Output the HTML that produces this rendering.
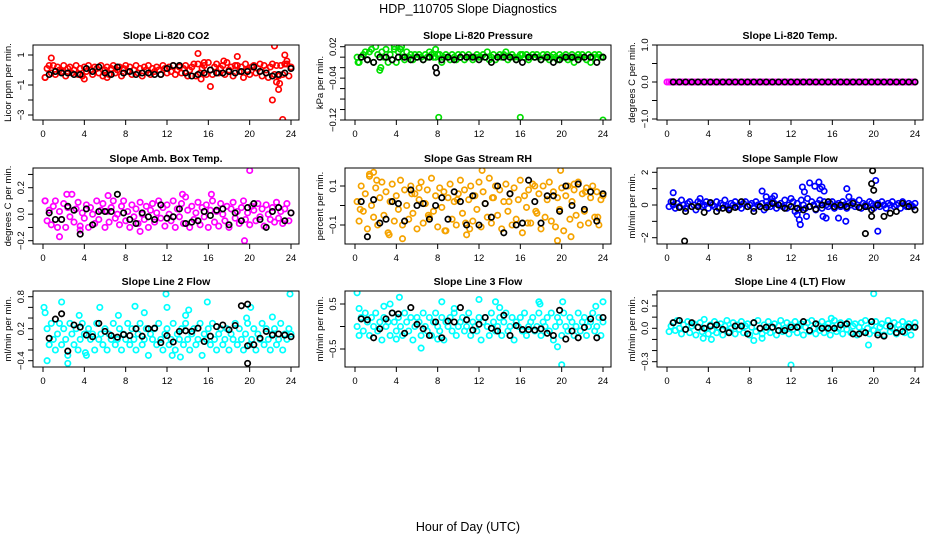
<!DOCTYPE html>
<html><head><meta charset="utf-8">
<style>
html,body{margin:0;padding:0;background:#fff;}
svg{display:block;font-family:"Liberation Sans",sans-serif;}
</style></head>
<body>
<svg id="chart" width="936" height="540" viewBox="0 0 936 540" xmlns="http://www.w3.org/2000/svg">
<rect x="0" y="0" width="936" height="540" fill="#fff"/>
<text x="468" y="13" text-anchor="middle" font-size="12.5">HDP_110705  Slope Diagnostics</text>
<text x="468" y="531" text-anchor="middle" font-size="12.5">Hour of Day (UTC)</text>
</svg>
<script>
const T=[0.2,0.4,0.6,0.8,1,1.2,1.4,1.6,1.8,2,2.2,2.4,2.6,2.8,3,3.2,3.4,3.6,3.8,4,4.2,4.4,4.6,4.8,5,5.2,5.4,5.6,5.8,6,6.2,6.4,6.6,6.8,7,7.2,7.4,7.6,7.8,8,8.2,8.4,8.6,8.8,9,9.2,9.4,9.6,9.8,10,10.2,10.4,10.6,10.8,11,11.2,11.4,11.6,11.8,12,12.2,12.4,12.6,12.8,13,13.2,13.4,13.6,13.8,14,14.2,14.4,14.6,14.8,15,15.2,15.4,15.6,15.8,16,16.2,16.4,16.6,16.8,17,17.2,17.4,17.6,17.8,18,18.2,18.4,18.6,18.8,19,19.2,19.4,19.6,19.8,20,20.2,20.4,20.6,20.8,21,21.2,21.4,21.6,21.8,22,22.2,22.4,22.6,22.8,23,23.2,23.4,23.6,23.8,24];
const TB=[0.6,1.2,1.8,2.4,3,3.6,4.2,4.8,5.4,6,6.6,7.2,7.8,8.4,9,9.6,10.2,10.8,11.4,12,12.6,13.2,13.8,14.4,15,15.6,16.2,16.8,17.4,18,18.6,19.2,19.8,20.4,21,21.6,22.2,22.8,23.4,24];
const xTicks=[0,4,8,12,16,20,24];

// CO2
const co2Y=[-0.5,0.1,0.3,-0.2,0.3,-0.3,0.2,0,-0.1,0.3,-0.4,0.1,0.2,-0.2,0,0.3,-0.3,0.1,-0.4,0.2,-0.1,0.3,0,-0.3,0.2,0.1,-0.2,0.3,-0.4,0,0.2,-0.3,0.1,0.3,-0.2,0,0.2,-0.4,0.1,0.3,-0.1,0.2,-0.3,0,0.3,-0.2,0.1,-0.4,0.2,0,0.3,-0.3,0.1,-0.1,0.2,0,-0.3,0.3,0.1,-0.2,0.2,-0.1,0.3,-0.3,0,0.2,-0.2,0.1,0.3,-0.4,0,0.2,0.4,-0.4,0.4,-0.2,0.1,0.3,-0.3,0.5,0,-0.3,0.2,0.4,-0.2,0.1,0.3,-0.3,0.5,0,0.2,-0.4,0.3,0.3,-0.1,0.2,-0.5,0.4,0,-0.3,0.2,0.3,-0.2,0.1,0.4,-0.4,0.3,0,-0.5,0.2,0.4,-0.3,0.3,-0.4,0.3,-0.3,0.4,0.4,-0.4,0.2];
const co2OutX=[0.8,4,6.2,15,16.2,18.8,22.2,22.4,22.8,22.9,23.2,23.4,15.3,15.6,23.6,17.5,22.6,0.2];
const co2OutY=[0.8,-0.6,-0.5,1.1,-1.1,0.9,-2,1.6,-1.3,-0.9,-3.3,1.0,-0.6,0.5,0.6,0.6,-0.8,-0.5];
const co2BlackY=[-0.3,-0.1,-0.2,-0.2,-0.3,-0.3,0.1,-0.1,0.2,-0.2,-0.3,0.2,-0.2,-0.1,-0.3,-0.2,-0.2,-0.3,-0.3,0.1,0.3,0.3,-0.2,-0.4,-0.3,-0.2,0,-0.2,-0.2,-0.1,-0.2,-0.1,-0.1,0.2,-0.1,-0.2,-0.4,-0.3,-0.2,0.1];
const co2BlackOutX=[]; const co2BlackOutY=[];

// Pressure
const presY=[0,-0.01,0,0.005,0.01,-0.005,0.01,0.015,-0.01,0.02,0.005,-0.025,0.01,0,0.015,-0.01,0.005,-0.005,0.02,-0.01,0.01,0.015,0,-0.005,0.01,0,0.005,-0.005,0.005,0,0.005,0,-0.005,0.005,0,0.01,0.005,0,0,0.005,0.005,-0.01,0,0.005,0,-0.005,0.005,0,-0.005,0.005,0,0.005,-0.005,0,0.005,0,-0.005,0,0.005,0,0,0.005,0,0.01,-0.005,0,0.005,-0.005,0,0.005,0,0.005,0.01,-0.005,0,0.005,0,-0.005,0,0.005,0.005,0,0.005,-0.005,0,0.005,0,0.005,0,-0.005,0.005,0,0.005,-0.005,0,0.005,0,-0.005,0.005,0,0,0.005,-0.005,0,0.005,-0.01,0,0.005,0,0.005,0,-0.005,0.005,-0.01,0,0.005,0,0.005,0,0];
const presOutX=[8.1,16,24,0.3,2.5,4.5,7.8,3.8];
const presOutY=[-0.115,-0.115,-0.12,-0.01,-0.02,0.02,0.015,0.015];
const presBlackY=[0,-0.005,-0.01,0,0,-0.005,0,0,-0.005,0,-0.005,0,-0.02,-0.005,0,-0.005,0,0,0,-0.005,0,-0.01,0,0,0,-0.005,-0.01,0,0,-0.005,0,-0.01,-0.005,0,0,-0.005,0,0,-0.01,0];
const presBlackOutX=[7.9]; const presBlackOutY=[-0.03];

// Li-820 Temp
const tempY=[0,0,0,0,0,0,0,0,0,0,0,0,0,0,0,0,0,0,0,0,0,0,0,0,0,0,0,0,0,0,0,0,0,0,0,0,0,0,0,0,0,0,0,0,0,0,0,0,0,0,0,0,0,0,0,0,0,0,0,0,0,0,0,0,0,0,0,0,0,0,0,0,0,0,0,0,0,0,0,0,0,0,0,0,0,0,0,0,0,0,0,0,0,0,0,0,0,0,0,0,0,0,0,0,0,0,0,0,0,0,0,0,0,0,0,0,0,0,0,0];
const tempOutX=[0]; const tempOutY=[0];
const tempBlackY=[0,0,0,0,0,0,0,0,0,0,0,0,0,0,0,0,0,0,0,0,0,0,0,0,0,0,0,0,0,0,0,0,0,0,0,0,0,0,0,0];
const tempBlackOutX=[]; const tempBlackOutY=[];

// Amb box temp
const ambY=[0.1,-0.05,0.03,-0.08,0.06,0.1,-0.1,0.02,-0.04,0.08,-0.1,0.05,-0.02,0.15,-0.06,0.04,0.09,-0.09,0.01,-0.03,0.07,-0.1,0.05,0,-0.07,0.1,-0.04,0.03,0.08,-0.1,0.02,-0.06,0.05,0.1,-0.03,0,-0.08,0.06,0.1,-0.05,0.02,-0.1,0.07,-0.02,0.04,-0.07,0.09,0,-0.04,0.06,-0.1,0.03,0.08,-0.06,0.01,0.1,-0.03,0.05,-0.09,0.07,0,-0.05,0.1,-0.1,0.04,-0.02,0.08,-0.07,0.13,0.03,-0.1,0.06,-0.04,0.01,0.09,-0.08,0.05,-0.02,0.07,-0.1,0.03,0.1,-0.06,0.02,-0.09,0.08,0,-0.05,0.06,-0.1,0.04,0.09,-0.03,0.02,-0.07,0.05,0.1,-0.04,0.01,-0.08,0.06,0.03,-0.05,0.08,-0.02,0.04,-0.09,0.07,0,-0.04,0.05,-0.06,0.09,-0.03,0.02,-0.07,0.04,0.08,-0.05,0.01];
const ambOutX=[1.6,19.5,20,13.5,9.4,3.6,2.3,16.3,6.3,0.2];
const ambOutY=[-0.17,-0.2,0.33,0.15,-0.13,-0.12,0.15,0.15,0.14,0.1];
const ambBlackY=[0.01,-0.04,-0.04,0.06,0.03,-0.15,0.04,-0.08,0.02,0.02,0.02,0.15,0.01,-0.04,-0.07,0.01,-0.02,-0.04,0.07,-0.03,-0.02,0.04,-0.07,-0.06,-0.05,0.02,-0.01,0.03,0.04,-0.08,0.01,-0.05,0.05,0.08,-0.04,-0.1,0.02,0.05,-0.05,0.01];
const ambBlackOutX=[]; const ambBlackOutY=[];

// Gas stream RH
const rhY=[0.02,-0.08,0.1,-0.03,0.06,-0.12,0.15,0,-0.06,0.09,-0.1,0.04,0.12,-0.05,0.07,-0.14,0.02,0.11,-0.08,0.05,-0.02,0.13,-0.1,0.08,0,-0.07,0.1,-0.04,0.06,-0.12,0.03,0.12,-0.09,0.01,0.08,-0.06,0.14,-0.03,0.05,-0.11,0.09,-0.01,0.07,-0.13,0.04,0.11,-0.07,0.02,-0.1,0.06,0.13,-0.04,0.08,-0.15,0.03,0.1,-0.08,0.05,-0.02,0.12,-0.11,0.07,0.01,-0.06,0.14,-0.09,0.04,0.1,-0.05,0.08,-0.12,0.02,0.11,-0.03,0.06,-0.1,0.09,-0.07,0.03,0.13,-0.14,0.05,-0.01,0.08,-0.09,0.11,0.1,-0.04,0.06,-0.12,0.1,-0.06,0.03,0.12,-0.08,0.07,-0.11,0.04,-0.02,0.09,-0.13,0.05,0.1,-0.07,0.02,0.08,-0.05,0.12,-0.1,0.06,-0.03,0.09,-0.09,0.04,0.1,-0.06,0.07,-0.1,0.03,0.05];
const rhOutX=[1.8,1.4,4.6,8.7,12.3,3.3,19.9,19.6,20.9,2.1,0.5,5.5,7.1,9.9,10.7,14.9,17.5,22.3,23.5,6.2,11.1,13.3,16.7,21.2];
const rhOutY=[0.17,0.16,-0.17,-0.13,0.18,-0.15,0.18,-0.18,-0.16,0.13,-0.02,0.06,-0.05,0.03,-0.09,0.02,-0.03,0.07,-0.06,0.09,-0.12,0.04,-0.09,0.11];
const rhBlackY=[0.02,-0.16,0.03,-0.09,-0.07,0.02,0.01,-0.08,0.08,0,0.01,-0.07,0,0.04,-0.07,0.07,0.02,-0.1,0.05,-0.1,0.01,-0.06,0.1,-0.14,0.06,-0.1,-0.09,0.13,0.02,-0.09,0.05,0.05,-0.03,0.1,0,0.11,-0.02,0.07,-0.08,0.06];
const rhBlackOutX=[]; const rhBlackOutY=[];

// Sample flow
const flowY=[-0.1,0.2,0,-0.2,0.1,-0.1,0.3,0,-0.2,0.1,0.2,-0.1,0,-0.3,0.2,0.1,-0.1,0,0.2,-0.2,0.1,0,-0.1,0.2,-0.2,0.1,0,0.3,-0.1,-0.2,0.1,0,0.2,-0.1,0,-0.2,0.1,0.2,-0.1,0,0.1,-0.2,0.2,0,-0.1,0.1,-0.3,0.2,0,-0.1,0.2,0.1,-0.2,0,0.1,-0.1,0.3,-0.2,0,0.4,0.2,-0.4,0.1,-0.3,0.3,0,-0.2,0.4,-0.1,0.2,0,-0.3,0.1,0.3,-0.2,0.2,0,-0.1,0.1,0.2,-0.2,0,0.1,-0.1,0.2,0,-0.2,0.1,0,0.2,-0.1,0,0.3,-0.2,0.1,0,-0.1,0.2,0.1,-0.2,0,0.1,-0.1,0.2,0,-0.2,0.1,0,0.2,-0.1,0,0.1,-0.2,0.2,0,-0.1,0.1,0,-0.1,0.1];
const flowOutX=[0.6,3.2,9.2,9.6,10.4,12.8,13.1,13.3,13.8,14.3,14.7,14.8,15,15.2,15.4,16.6,17.4,17.6,20.2,20.4,12.6,12.9,15.1,17.3,13.5,10.2];
const flowOutY=[0.75,0.4,0.85,0.5,0.55,-0.9,1.1,0.8,1.35,1.15,1.4,1.0,1.1,0.85,-0.8,-0.8,1.0,0.5,1.5,-1.6,-0.6,-1.2,-0.7,-1.0,-0.7,0.4];
const flowBlackY=[0.2,-0.15,-0.4,-0.1,-0.1,-0.45,0.15,-0.4,-0.2,-0.3,-0.15,0.2,-0.1,-0.4,-0.1,-0.15,0.1,0,-0.2,-0.1,-0.2,-0.3,-0.1,-0.25,0,0.2,-0.1,0,-0.1,0.1,-0.15,-0.1,-0.3,0,-0.7,-0.5,-0.4,0.1,-0.1,-0.3];
const flowBlackOutX=[1.7,19.2,19.8,19.9,20,19.8]; const flowBlackOutY=[-2.2,-1.75,1.3,2.1,0.9,-0.7];

// Line 2 flow
const l2Y=[0.5,0.2,-0.1,0.3,0,-0.2,0.1,0.3,-0.1,0.2,0,-0.3,0.3,0.1,-0.1,0.2,-0.2,0,0.3,0.1,-0.3,0.2,0,0.1,-0.2,0.3,0,0.1,-0.1,0.2,-0.2,0.1,0,0.3,-0.1,0,0.2,-0.2,0.1,0,0.3,-0.1,0.2,0,-0.2,0.1,0.3,-0.1,0,0.2,-0.3,0.1,0,0.2,-0.1,0.3,0,-0.2,0.1,0.2,-0.1,0,0.3,-0.2,0.1,0,0.2,-0.1,0.3,0,-0.2,0.1,0.2,-0.1,0,0.3,-0.3,0.1,0,0.2,-0.1,0.3,0,-0.2,0.1,0.2,-0.1,0,0.2,-0.2,0.1,0,0.3,-0.1,0.2,0,-0.2,0.1,0.3,-0.1,0,0.2,-0.2,0.1,0,0.3,-0.1,0.2,0,-0.2,0.1,0.2,-0.1,0,0.3,-0.2,0.1,0,0.2,0.1];
const l2OutX=[0.1,1.8,5.5,8.9,11.9,12,15.9,23.9,0.4,2.4,3.5,7.3,4.1,12.5,13.3,19.7,20.1,13.8,14.1,9.8,22.2];
const l2OutY=[0.6,0.7,0.6,0.62,0.85,0.6,0.7,0.85,-0.4,-0.45,0.45,0.45,-0.25,-0.3,-0.33,0.4,0.6,0.45,0.55,0.5,0.42];
const l2BlackY=[0.02,0.38,0.48,-0.22,0.27,0.23,0.08,0.05,0.3,0.15,0.07,0.04,0.09,0.07,0.2,0.06,0.2,0.21,-0.06,0.07,-0.05,0.15,0.16,0.15,0.21,-0.04,0.06,0.24,0.27,0.18,0.26,0.63,-0.12,-0.1,0.02,0.15,0.08,0.1,0.08,0.05];
const l2BlackOutX=[19.8,19.8]; const l2BlackOutY=[-0.45,0.66];

// Line 3 flow
const l3Y=[0,-0.2,0.2,-0.1,0.3,0.1,-0.2,0.2,0,0.3,-0.1,0.1,-0.3,0.2,0,0.1,-0.2,0.3,0.1,-0.1,0.2,0,-0.2,0.3,0.1,-0.1,0.2,-0.3,0,0.2,0.1,-0.2,0.3,0,-0.1,0.2,-0.2,0.1,0.3,0,-0.1,0.2,-0.3,0.1,0,0.2,-0.1,0.3,-0.2,0,0.1,0.2,-0.1,0,0.3,-0.2,0.1,0,-0.1,0.2,-0.3,0.1,0.2,0,-0.2,0.3,0.1,-0.1,0,0.2,-0.2,0.1,0.3,-0.1,0,0.2,-0.3,0.1,0,0.2,-0.1,0.3,-0.2,0,0.1,0.2,-0.1,0,0.3,-0.2,0.1,0,0.2,-0.1,0.3,-0.3,0,0.2,0.1,-0.2,0.3,0,-0.1,0.2,0.1,-0.2,0,0.3,-0.1,0.1,0.2,-0.2,0,0.1,0.3,-0.1,0,0.2,-0.2,0.1];
const l3OutX=[0.2,0.4,3.4,4.3,6.4,8.4,9.6,12,13.6,14,17.8,17.9,20.1,19.6,20,23.3,24,4,8,2.8];
const l3OutY=[0.75,0.4,0.5,0.65,-0.48,0.55,0.4,0.6,0.55,0.42,0.55,0.5,0.55,-0.45,-0.85,0.45,0.55,-0.28,-0.28,0.45];
const l3BlackY=[0.17,0.15,-0.25,-0.05,0.17,0.3,0.28,-0.15,0.42,0.05,-0.05,-0.2,0.1,-0.25,0.12,0.1,0.42,0.15,-0.08,0.05,0.2,-0.04,-0.1,0.25,-0.2,0.02,-0.07,-0.07,-0.08,-0.05,-0.15,-0.2,0.36,-0.28,-0.1,-0.25,-0.02,0.17,-0.25,0.2];
const l3BlackOutX=[]; const l3BlackOutY=[];

// Line 4 flow
const l4Y=[-0.03,0.02,0.05,-0.02,0.07,0,-0.05,0.03,-0.01,0.06,-0.04,0.02,0.04,-0.06,0.01,0.05,-0.03,0.08,0,-0.05,0.03,-0.02,0.06,-0.04,0.01,0.04,-0.06,0.02,0.07,-0.03,0,0.05,-0.05,0.03,-0.01,0.06,-0.04,0.02,0.04,-0.06,0.01,0.05,-0.03,0.07,0,-0.05,0.03,-0.02,0.06,-0.04,0.01,0.04,-0.06,0.02,0.07,-0.03,0,0.05,-0.05,0.03,-0.01,0.06,-0.04,0.02,0.04,-0.06,0.01,0.05,-0.03,0.07,0,-0.05,0.03,-0.02,0.06,-0.04,0.01,0.04,-0.06,0.02,0.07,-0.03,0,0.05,-0.05,0.03,-0.01,0.06,-0.04,0.02,0.04,-0.06,0.01,0.05,-0.03,0.07,0,-0.05,0.03,-0.02,0.06,-0.04,0.01,0.04,-0.06,0.02,0.07,-0.03,0,0.05,-0.05,0.03,-0.01,0.06,-0.04,0.02,0.04,-0.06,0.01,0.05];
const l4OutX=[20,12,19.5,4.3,3.5,8.4,9.2,15.9];
const l4OutY=[0.31,-0.33,-0.15,-0.1,-0.09,-0.11,-0.09,0.09];
const l4BlackY=[0.05,0.07,-0.01,0.05,0.01,0,0.02,0.03,-0.01,-0.04,0.02,0.02,-0.05,0.05,0,0.01,0.01,-0.02,-0.02,0.01,0.01,0.06,-0.02,0.04,0,0,0,0.03,0.04,-0.05,-0.05,-0.04,0.06,-0.06,-0.07,0.02,-0.04,-0.03,0.01,0.01];
const l4BlackOutX=[]; const l4BlackOutY=[];

const NS='http://www.w3.org/2000/svg';
const svg=document.getElementById('chart');
function mk(tag,attrs,parent){const e=document.createElementNS(NS,tag);for(const k in attrs)e.setAttribute(k,attrs[k]);(parent||svg).appendChild(e);return e;}

const colX=[43,355,667];
const rowBox=[[45,120],[168,244],[291,367]];
const panels=[
 {key:'co2',title:'Slope Li-820 CO2',yl:'Licor ppm per min.',col:0,row:0,color:'#ff0000',anc:[1,55,-3,115],ticks:[1,0,-1,-2,-3],labels:[1,-1,-3],fmt:v=>String(v),main:co2Y,ox:co2OutX,oy:co2OutY,by:co2BlackY,bx2:co2BlackOutX,by2:co2BlackOutY},
 {key:'pressure',title:'Slope Li-820 Pressure',yl:'kPa per min.',col:1,row:0,color:'#00e000',anc:[0.02,46.7,-0.12,120],ticks:[0.02,0,-0.02,-0.04,-0.06,-0.08,-0.1,-0.12],labels:[0.02,-0.04,-0.12],fmt:v=>v.toFixed(2),main:presY,ox:presOutX,oy:presOutY,by:presBlackY,bx2:presBlackOutX,by2:presBlackOutY},
 {key:'temp',title:'Slope Li-820 Temp.',yl:'degrees C per min.',col:2,row:0,color:'#ff00ff',anc:[1,45,-1,119],ticks:[1,0.5,0,-0.5,-1],labels:[1,0,-1],fmt:v=>v.toFixed(1),main:tempY,ox:tempOutX,oy:tempOutY,by:tempBlackY,bx2:tempBlackOutX,by2:tempBlackOutY},
 {key:'amb',title:'Slope Amb. Box Temp.',yl:'degrees C per min.',col:0,row:1,color:'#ff00ff',anc:[0.2,187.7,-0.2,240.7],ticks:[0.3,0.2,0.1,0,-0.1,-0.2],labels:[0.2,0,-0.2],fmt:v=>v.toFixed(1),main:ambY,ox:ambOutX,oy:ambOutY,by:ambBlackY,bx2:ambBlackOutX,by2:ambBlackOutY},
 {key:'rh',title:'Slope Gas Stream RH',yl:'percent per min.',col:1,row:1,color:'#f5a300',anc:[0.1,186,-0.1,225],ticks:[0.1,0,-0.1],labels:[0.1,-0.1],fmt:v=>v.toFixed(1),main:rhY,ox:rhOutX,oy:rhOutY,by:rhBlackY,bx2:rhBlackOutX,by2:rhBlackOutY},
 {key:'sample-flow',title:'Slope Sample Flow',yl:'ml/min per min.',col:2,row:1,color:'#0000ff',anc:[2,172.3,-2,237.7],ticks:[2,1,0,-1,-2],labels:[2,0,-2],fmt:v=>String(v),main:flowY,ox:flowOutX,oy:flowOutY,by:flowBlackY,bx2:flowBlackOutX,by2:flowBlackOutY},
 {key:'line2',title:'Slope Line 2 Flow',yl:'ml/min per min.',col:0,row:2,color:'#00ffff',anc:[0.8,296.7,-0.4,360.7],ticks:[0.8,0.6,0.4,0.2,0,-0.2,-0.4],labels:[0.8,0.2,-0.4],fmt:v=>v.toFixed(1),main:l2Y,ox:l2OutX,oy:l2OutY,by:l2BlackY,bx2:l2BlackOutX,by2:l2BlackOutY},
 {key:'line3',title:'Slope Line 3 Flow',yl:'ml/min per min.',col:1,row:2,color:'#00ffff',anc:[0.5,304,-0.5,349],ticks:[0.5,0,-0.5],labels:[0.5,-0.5],fmt:v=>v.toFixed(1),main:l3Y,ox:l3OutX,oy:l3OutY,by:l3BlackY,bx2:l3BlackOutX,by2:l3BlackOutY},
 {key:'line4',title:'Slope Line 4 (LT) Flow',yl:'ml/min per min.',col:2,row:2,color:'#00ffff',anc:[0.2,306,-0.3,361.7],ticks:[0.3,0.2,0.1,0,-0.1,-0.2,-0.3],labels:[0.2,0,-0.3],fmt:v=>v.toFixed(1),main:l4Y,ox:l4OutX,oy:l4OutY,by:l4BlackY,bx2:l4BlackOutX,by2:l4BlackOutY}
];

panels.forEach(p=>{
  const x0=colX[p.col];
  const [top,bot]=rowBox[p.row];
  const L=x0-10,R=x0+256;
  const xs=h=>x0+h*248/24;
  const k=(p.anc[3]-p.anc[1])/(p.anc[2]-p.anc[0]);
  const ys=v=>p.anc[1]+(v-p.anc[0])*k;
  const g=mk('g',{});
  
  
  const cp=mk('clipPath',{id:'clip-'+p.key},g);
  mk('rect',{x:L,y:top,width:R-L,height:bot-top},cp);
  const t=mk('text',{x:(L+R)/2,y:top-6,'text-anchor':'middle','font-size':'10.5','font-weight':'bold'},g);
  t.textContent=p.title;
  
  
  const pts=mk('g',{'clip-path':'url(#clip-'+p.key+')',fill:'none','stroke-width':'1.7'},g);
  
  
  function dot(x,y,c){const e=mk('circle',{cx:xs(x).toFixed(1),cy:ys(y).toFixed(1),r:'2.7',stroke:c},pts);
    
    }
  for(let i=0;i<Math.min(T.length,p.main.length);i++) dot(T[i],p.main[i],p.color);
  for(let i=0;i<p.ox.length;i++) dot(p.ox[i],p.oy[i],p.color);
  for(let i=0;i<Math.min(TB.length,p.by.length);i++) dot(TB[i],p.by[i],'#000');
  for(let i=0;i<p.bx2.length;i++) dot(p.bx2[i],p.by2[i],'#000');
  const box=mk('rect',{x:L,y:top,width:R-L,height:bot-top,fill:'none',stroke:'#000','stroke-width':'1'},g);
  
  
  xTicks.forEach(v=>{
    const X=xs(v);
    mk('line',{x1:X,y1:bot,x2:X,y2:bot+5,stroke:'#000'},g);
    const tl=mk('text',{x:X,y:bot+17,'text-anchor':'middle','font-size':'9.5'},g);
    tl.textContent=v;
    
    
  });
  p.ticks.forEach(v=>{
    const Y=ys(v);
    mk('line',{x1:L-5,y1:Y,x2:L,y2:Y,stroke:'#000'},g);
  });
  p.labels.forEach(v=>{
    const Y=ys(v);
    const tl=mk('text',{x:0,y:0,'text-anchor':'middle','font-size':'9.5',transform:`translate(${L-9},${Y}) rotate(-90)`},g);
    tl.textContent=p.fmt(v).replace('-','\u2212');
    
    
  });
  const yl=mk('text',{x:0,y:0,'text-anchor':'middle','font-size':'9.5',transform:`translate(${L-22},${(top+bot)/2}) rotate(-90)`},g);
  yl.textContent=p.yl;
  
  
});
</script>
</body></html>
